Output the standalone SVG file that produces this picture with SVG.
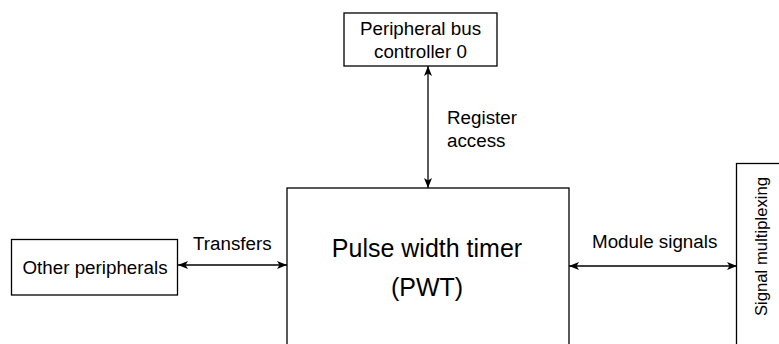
<svg xmlns="http://www.w3.org/2000/svg" width="779" height="344" viewBox="0 0 779 344">
<defs>
<style>
.box{fill:#fff;stroke:#000;stroke-width:1.3}
.t{font-family:"Liberation Sans",Arial,sans-serif;font-size:18.8px;fill:#000}
.big{font-family:"Liberation Sans",Arial,sans-serif;font-size:25px;fill:#000}
.c{fill:none;stroke:#000;stroke-width:1.3;marker-start:url(#ah);marker-end:url(#ah)}
</style>
<marker id="ah" viewBox="0 0 10 8" refX="10" refY="4" markerWidth="10" markerHeight="8" markerUnits="userSpaceOnUse" orient="auto-start-reverse">
<path d="M0,0 L10,4 L0,8 L2.5,4 z" fill="#000"/>
</marker>
</defs>
<rect width="779" height="344" fill="#fff"/>
<g id="connectors">
<line class="c" x1="428" y1="66" x2="428" y2="188"/>
<line class="c" x1="178" y1="265" x2="287" y2="265"/>
<line class="c" x1="569" y1="266" x2="737" y2="266"/>
<text class="t" x="447" y="124">Register</text>
<text class="t" x="447" y="147">access</text>
<text class="t" x="193" y="250">Transfers</text>
<text class="t" x="592" y="248">Module signals</text>
</g>
<g id="pbc">
<rect class="box" x="344" y="13" width="153" height="53"/>
<text class="t" x="420.5" y="35" text-anchor="middle">Peripheral bus</text>
<text class="t" x="420.5" y="58" text-anchor="middle">controller 0</text>
</g>
<g id="other">
<rect class="box" x="11.5" y="239.5" width="166" height="55.5"/>
<text class="t" x="95" y="274" text-anchor="middle">Other peripherals</text>
</g>
<g id="pwt">
<rect class="box" x="287" y="188" width="282" height="170"/>
<text class="big" x="427" y="257" text-anchor="middle">Pulse width timer</text>
<text class="big" x="427" y="296" text-anchor="middle">(PWT)</text>
</g>
<g id="mux">
<rect class="box" x="736.5" y="163.5" width="60" height="200"/>
<text class="t" style="font-size:16.7px" transform="translate(767,246.5) rotate(-90)" x="0" y="0" text-anchor="middle">Signal multiplexing</text>
</g>
</svg>
